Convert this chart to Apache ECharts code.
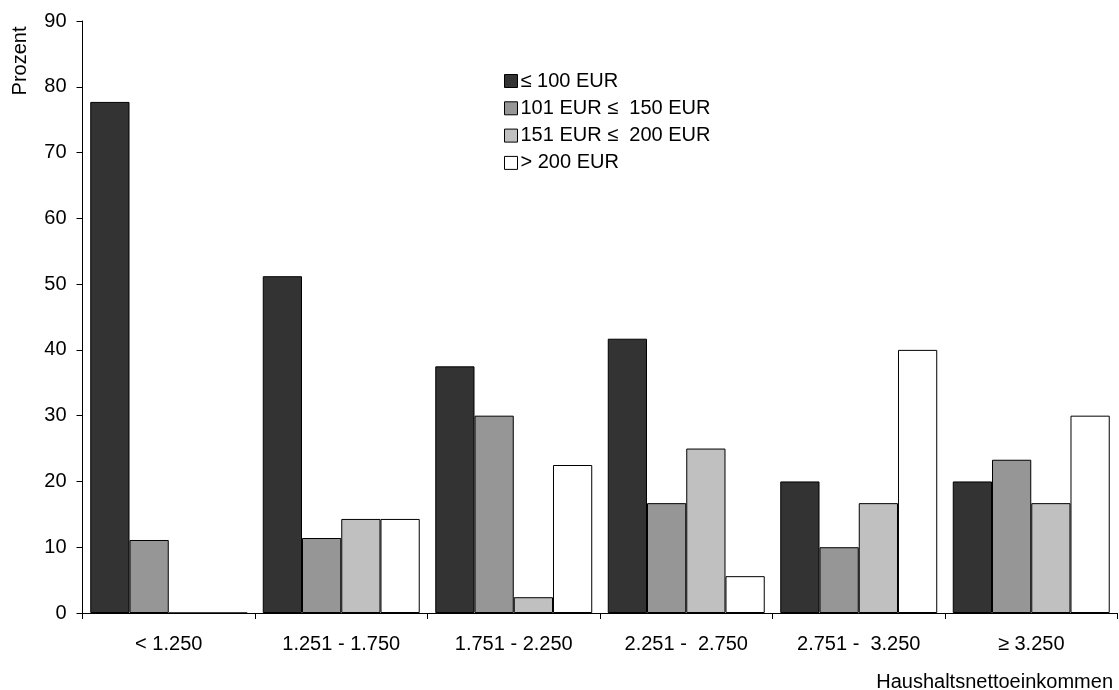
<!DOCTYPE html>
<html>
<head>
<meta charset="utf-8">
<script src="https://cdn.jsdelivr.net/npm/echarts@6/dist/echarts.min.js"></script>
<style>
  html, body { margin: 0; padding: 0; background: #fff; }
  #chart { width: 1119px; height: 690px; }
</style>
</head>
<body>
<div id="chart"></div>
<script>
// Income brackets (Haushaltsnettoeinkommen, EUR)
const categories = ['< 1.250', '1.251 - 1.750', '1.751 - 2.250', '2.251 -  2.750', '2.751 -  3.250', '\u2265 3.250'];

// Spending classes
const seriesNames = ['\u2264 100 EUR', '101 EUR \u2264  150 EUR', '151 EUR \u2264  200 EUR', '> 200 EUR'];

// Share of households in percent per income bracket
const upTo100   = [77.7, 51.2, 37.5, 41.7, 20.0, 20.0];
const from101   = [11.1, 11.4, 30.0, 16.7, 10.0, 23.3];
const from151   = [0,    14.3,  2.4, 25.0, 16.7, 16.7];
const above200  = [0,    14.3, 22.5,  5.6, 40.0, 30.0];

const yTicks = { min: 0, max: 90, interval: 10 };

const fills = ['#333333', '#969696', '#c0c0c0', '#ffffff'];
const values = [upTo100, from101, from151, above200];
const font = '"Liberation Sans", Arial, Helvetica, sans-serif';

const chart = echarts.init(document.getElementById('chart'), null, { renderer: 'canvas' });

chart.setOption({
  animation: false,
  backgroundColor: '#ffffff',
  textStyle: { fontFamily: font, color: '#000' },
  grid: { left: 82.5, right: 1.5, top: 21, bottom: 77, containLabel: false },
  legend: {
    orient: 'vertical',
    left: 499,
    top: 66,
    icon: 'rect',
    itemWidth: 13,
    itemHeight: 13,
    itemGap: 7.3,
    selectedMode: false,
    textStyle: { fontSize: 20, lineHeight: 20, color: '#000', fontFamily: font, padding: [0, 0, 0, -2] },
    itemStyle: { borderColor: '#000', borderWidth: 1 },
    data: seriesNames
  },
  xAxis: {
    type: 'category',
    data: categories,
    axisLine: { lineStyle: { color: '#000', width: 1 } },
    axisTick: { show: true, length: 6, alignWithLabel: false, lineStyle: { color: '#000' } },
    axisLabel: { fontSize: 20, color: '#000', margin: 21, fontFamily: font, interval: 0 }
  },
  yAxis: {
    type: 'value',
    min: yTicks.min,
    max: yTicks.max,
    interval: yTicks.interval,
    splitLine: { show: false },
    axisLine: { show: true, lineStyle: { color: '#000', width: 1 } },
    axisTick: { show: true, length: 6, lineStyle: { color: '#000' } },
    axisLabel: { fontSize: 20, color: '#000', margin: 16, fontFamily: font }
  },
  graphic: [
    {
      type: 'text',
      x: 20, y: 61,
      rotation: Math.PI / 2,
      style: { text: 'Prozent', fontSize: 20, fontFamily: font, fill: '#000', align: 'center', verticalAlign: 'middle' }
    },
    {
      type: 'text',
      right: 6, top: 672,
      style: { text: 'Haushaltsnettoeinkommen', fontSize: 20, fontFamily: font, fill: '#000' }
    }
  ],
  series: seriesNames.map((name, i) => ({
    name: name,
    type: 'bar',
    data: values[i],
    barGap: '0%',
    barCategoryGap: '9%',
    itemStyle: { color: fills[i], borderColor: '#000', borderWidth: 1 },
    emphasis: { disabled: true }
  }))
});
</script>
</body>
</html>
